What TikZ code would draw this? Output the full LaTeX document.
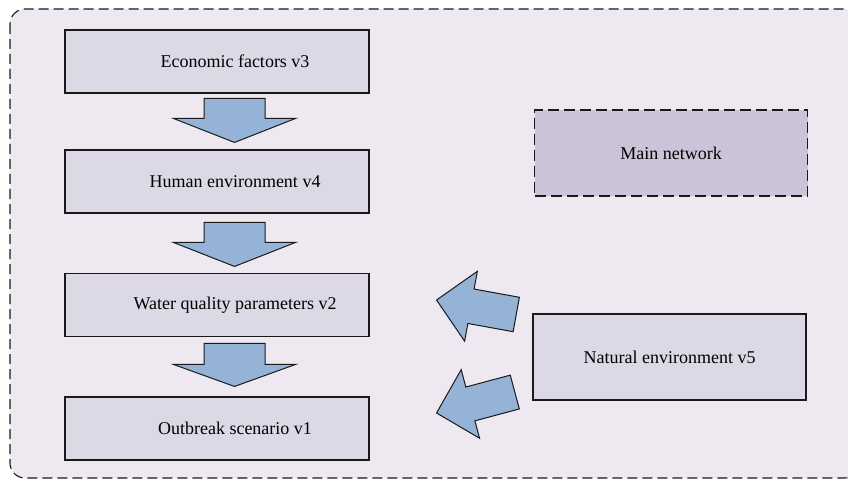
\documentclass[tikz,border=0pt]{standalone}
\usepackage{fontspec}
\setmainfont{Liberation Serif}
\usetikzlibrary{calc}
\definecolor{panelfill}{HTML}{EEE8F0}
\definecolor{boxfill}{HTML}{DDD8E6}
\definecolor{mainfill}{HTML}{CBC3D8}
\definecolor{arrowfill}{HTML}{95B3D7}
\definecolor{edge}{HTML}{1A1A1A}
\tikzset{
  factor/.style={draw=edge, line width=1.1pt, fill=boxfill, minimum width=304pt,
    minimum height=63pt, inner sep=0pt, font=\fontsize{18}{22}\selectfont},
  sidebox/.style={factor, minimum width=273pt, minimum height=86pt},
  mainbox/.style={sidebox, fill=mainfill, dash pattern=on 11pt off 5pt},
  label/.style={inner sep=0pt, font=\fontsize{18}{22}\selectfont},
  % block arrow with its tip at the origin, pointing along +x
  pics/blockarrow/.style n args={4}{code={
    \draw[draw=edge, line width=1pt, fill=arrowfill, line join=miter]
      (0,0) -- (-#2,#4/2) -- (-#2,#3/2) -- (-#1,#3/2) -- (-#1,-#3/2)
      -- (-#2,-#3/2) -- (-#2,-#4/2) -- cycle;}}
}
\begin{document}
\begin{tikzpicture}[x=1pt, y=1pt]
  \useasboundingbox (0,0) rectangle (848,480);
  % dashed panel round everything
  \draw[fill=panelfill, draw=edge, line width=1.1pt, dash pattern=on 10pt off 5pt,
    rounded corners=15pt] (10,471) rectangle (860,2);

  % chain of factors
  \node[factor] (eco) at (217,418.5) {};
  \node[label] (ecot) at (235,418.5) {Economic factors v3};
  \node[factor] (hum) at (217,298.5) {};
  \node[label] (humt) at (235,298.5) {Human environment v4};
  \node[factor] (wq) at (217,175) {};
  \node[label] (wqt) at (235,175) {Water quality parameters v2};
  \node[factor] (ob) at (217,51.5) {};
  \node[label] (obt) at (235,51.5) {Outbreak scenario v1};

  % side boxes
  \node[mainbox] (main) at (671,327) {Main network};
  \node[sidebox] (nat) at (669.5,123) {Natural environment v5};

  % downward block arrows between the factors
  \coordinate (t1) at ($(hum.north)+(17.5,7)$);
  \coordinate (t2) at ($(wq.north)+(17.5,6.5)$);
  \coordinate (t3) at ($(ob.north)+(17.5,10)$);
  \pic[rotate=-90] at (t1) {blockarrow={44}{24}{61}{122}};
  \pic[rotate=-90] at (t2) {blockarrow={44}{24}{61}{122}};
  \pic[rotate=-90] at (t3) {blockarrow={43}{22}{61}{122}};

  % block arrows from the natural environment
  \coordinate (t4) at ($(wq.east)+(67,5)$);
  \coordinate (t5) at ($(ob.east)+(67,15.5)$);
  \pic[rotate=169.7] at (t4) {blockarrow={81}{35}{35}{71}};
  \pic[rotate=195] at (t5) {blockarrow={81}{35}{35}{71}};
\end{tikzpicture}
\end{document}
